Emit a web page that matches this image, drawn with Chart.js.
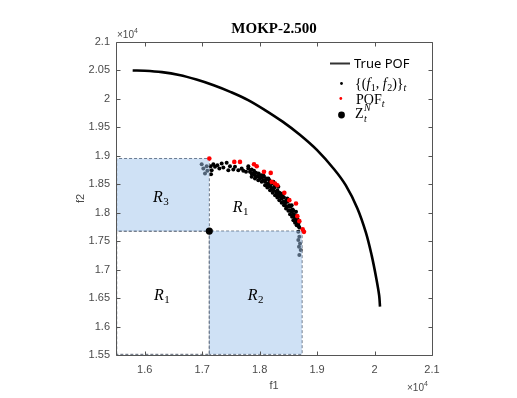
<!DOCTYPE html>
<html><head><meta charset="utf-8">
<script src="https://cdn.jsdelivr.net/npm/chart.js@4"></script>
<style>html,body{margin:0;padding:0;background:#fff;}#wrap{width:517px;height:398px;}</style>
</head><body><div id="wrap"><canvas id="c" width="517" height="398"></canvas></div>
<script>
// ---- data (units of 1e4) ----
const trueF1 = [1.579, 1.600, 1.630, 1.660, 1.690, 1.720, 1.750, 1.780, 1.810, 1.840, 1.870, 1.900, 1.930, 1.950, 1.970, 1.985, 1.995, 2.003, 2.008, 2.0095];
const trueF2 = [2.050, 2.0495, 2.047, 2.042, 2.034, 2.024, 2.012, 1.998, 1.980, 1.960, 1.937, 1.910, 1.876, 1.848, 1.808, 1.765, 1.725, 1.685, 1.655, 1.635];

const popF1 = [1.6991,1.7020,1.7049,1.7078,1.7090,
 1.7148,1.7165,1.7154,1.7194,1.7223,1.7264,1.7299,1.7339,1.7368,1.7426,1.7455,1.7484,1.7542,1.7571,1.7629,1.7687,1.7716,1.7763,1.7803,1.7832,1.7861,
 1.7890,1.7919,1.7949,1.7977,1.8007,1.8036,1.8065,1.8094,1.8111,1.8134,1.8152,1.8181,1.8192,1.8210,1.8239,1.8256,1.8285,1.8297,1.8326,1.8343,1.8355,1.8384,1.8401,1.8413,1.8442,1.8459,1.8471,1.8500,1.8517,1.8529,1.8558,1.8575,1.8587,1.8598,1.8616,1.8633,1.8645,1.8656,1.8674,1.8680,
 1.7803,1.7861,1.7902,1.7937,1.7983,1.8030,1.8076,1.8123,1.8169,1.8215,1.8262,1.8308,1.8366,1.8424,1.8482,1.8540,1.8587,1.8621,1.8656,1.8691,
 1.7861,1.7919,1.7977,1.8036,1.8094,1.8134,1.8181,1.8227,1.8268,1.8308,1.8343,1.8384,1.8424,1.8459,1.8500,1.8529,1.8564,1.8587,1.8616,1.8645,
 1.8065,1.8152,1.8239,1.8326,1.8413,1.8482,1.8558,
 1.8673,1.8691,1.8673,1.8703,1.8685,1.8715,1.8691];
const popF2 = [1.8853,1.8777,1.8689,1.8818,1.8736,
 1.8818,1.8747,1.8677,1.8853,1.8806,1.8835,1.8777,1.8864,1.8794,1.8876,1.8747,1.8818,1.8759,1.8806,1.8747,1.8777,1.8736,1.8718,1.8777,1.8718,1.8689,
 1.8689,1.8660,1.8630,1.8642,1.8601,1.8619,1.8572,1.8543,1.8583,1.8513,1.8484,1.8525,1.8455,1.8425,1.8396,1.8443,1.8367,1.8338,1.8308,1.8349,1.8279,1.8250,1.8291,1.8191,1.8162,1.8209,1.8115,1.8104,1.8133,1.8045,1.8016,1.8057,1.7975,1.7940,1.7899,1.8016,1.7870,1.7840,1.7811,1.7764,
 1.8818,1.8759,1.8736,1.8701,1.8689,1.8660,1.8630,1.8601,1.8572,1.8513,1.8466,1.8396,1.8338,1.8268,1.8191,1.8115,1.8034,1.7957,1.7899,1.7741,
 1.8630,1.8601,1.8572,1.8543,1.8484,1.8443,1.8396,1.8349,1.8308,1.8267,1.8221,1.8174,1.8133,1.8074,1.8033,1.7975,1.7928,1.7870,1.7823,1.7782,
 1.8660,1.8601,1.8543,1.8455,1.8338,1.8250,1.8133,
 1.7664,1.7577,1.7519,1.7461,1.7401,1.7343,1.7255];

const pofF1 = [1.7124,1.7559,1.7658,1.7902,1.7949,1.8076,1.8193,1.8210,1.8268,1.8308,1.8430,1.8517,1.8633,1.8656,1.8691,1.8750,1.8772];
const pofF2 = [1.8953,1.8893,1.8893,1.8853,1.8818,1.8718,1.8700,1.8542,1.8514,1.8484,1.8349,1.8221,1.8163,1.7940,1.7852,1.7707,1.7664];

const zF1 = [1.7124];
const zF2 = [1.7677];

// regions: R3 (shaded), R2 (shaded), R1 lower-left (unshaded)
const regionNames = ['R3', 'R2', 'R1'];
const regionX0 = [1.5512, 1.7124, 1.5512];
const regionX1 = [1.7124, 1.8738, 1.7124];
const regionY0 = [1.7677, 1.5512, 1.5512];
const regionY1 = [1.8953, 1.7677, 1.7677];
const regionShaded = [true, true, false];

// region labels
const labelMain = ['R', 'R', 'R', 'R'];
const labelSub = ['3', '1', '1', '2'];
const labelF1 = [1.628, 1.767, 1.630, 1.793];
const labelF2 = [1.828, 1.810, 1.655, 1.655];

const xTicks = [1.6, 1.7, 1.8, 1.9, 2.0, 2.1];
const xTickLabels = ['1.6', '1.7', '1.8', '1.9', '2', '2.1'];
const yTicks = [1.55, 1.6, 1.65, 1.7, 1.75, 1.8, 1.85, 1.9, 1.95, 2.0, 2.05, 2.1];
const yTickLabels = ['1.55', '1.6', '1.65', '1.7', '1.75', '1.8', '1.85', '1.9', '1.95', '2', '2.05', '2.1'];

// ---- build ----
const zip = (a, b) => a.map((v, i) => ({x: v, y: b[i]}));
const AXIS = '#555555';
const TXT = '#4a4a4a';
const EDGE = '#5b6575';
const FILL = 'rgba(160,195,235,0.5)';

const datasets = [];
datasets.push({label: 'Z', data: zip(zF1, zF2), pointRadius: 3.6, pointBackgroundColor: '#000', pointBorderWidth: 0, showLine: false, order: 0});
datasets.push({label: 'POF', data: zip(pofF1, pofF2), pointRadius: 2.3, pointBackgroundColor: '#ff0000', pointBorderWidth: 0, showLine: false, order: 1});
regionNames.forEach((n, i) => {
  if (regionShaded[i]) {
    datasets.push({label: n + 'fill', data: [{x: regionX0[i], y: regionY1[i]}, {x: regionX1[i], y: regionY1[i]}],
      showLine: true, borderWidth: 0, borderColor: 'rgba(0,0,0,0)', pointRadius: 0, backgroundColor: FILL,
      fill: {value: regionY0[i]}, tension: 0, order: 2});
  }
  datasets.push({label: n + 'edge', data: [
      {x: regionX0[i], y: regionY0[i]}, {x: regionX0[i], y: regionY1[i]}, {x: regionX1[i], y: regionY1[i]},
      {x: regionX1[i], y: regionY0[i]}, {x: regionX0[i], y: regionY0[i]}],
    showLine: true, borderWidth: 1, borderColor: EDGE, borderDash: [3, 2], pointRadius: 0, fill: false, tension: 0, order: 2});
});
datasets.push({label: 'pop', data: zip(popF1, popF2), pointRadius: 2, pointBackgroundColor: '#000', pointBorderWidth: 0, showLine: false, order: 3});
datasets.push({label: 'true', data: zip(trueF1, trueF2), showLine: true, borderColor: '#000', borderWidth: 2.6, pointRadius: 0, tension: 0.35, fill: false, order: 4});

function rich(ctx, x, y, segs) {
  for (const s of segs) {
    ctx.font = s.f;
    ctx.fillText(s.t, x, y + (s.dy || 0));
    x += ctx.measureText(s.t).width + (s.sp || 0);
  }
  return x;
}

const deco = {
  id: 'deco',
  afterDraw(chart) {
    const {ctx, chartArea: a, scales: {x, y}} = chart;
    ctx.save();
    const L = Math.round(a.left) + 0.5, R = Math.round(a.right) + 0.5, T = Math.round(a.top) + 0.5, B = Math.round(a.bottom) + 0.5;
    ctx.strokeStyle = AXIS; ctx.lineWidth = 1; ctx.setLineDash([]);
    ctx.beginPath(); ctx.rect(L, T, R - L, B - T); ctx.stroke();
    ctx.beginPath();
    xTicks.forEach(v => { const p = Math.round(x.getPixelForValue(v)) + 0.5; ctx.moveTo(p, B); ctx.lineTo(p, B - 4); ctx.moveTo(p, T); ctx.lineTo(p, T + 4); });
    yTicks.forEach(v => { const p = Math.round(y.getPixelForValue(v)) + 0.5; ctx.moveTo(L, p); ctx.lineTo(L + 4, p); ctx.moveTo(R, p); ctx.lineTo(R - 4, p); });
    ctx.stroke();

    // title
    ctx.fillStyle = '#000'; ctx.textAlign = 'center'; ctx.textBaseline = 'alphabetic';
    ctx.font = 'bold 15px "Liberation Serif", "Times New Roman", serif';
    ctx.fillText('MOKP-2.500', (a.left + a.right) / 2, 33);

    // axis titles
    ctx.fillStyle = TXT; ctx.font = '11px "Liberation Sans", Arial, sans-serif';
    ctx.fillText('f1', (a.left + a.right) / 2, 389);
    ctx.save(); ctx.translate(84, (a.top + a.bottom) / 2); ctx.rotate(-Math.PI / 2); ctx.fillText('f2', 0, 0); ctx.restore();

    // exponent labels
    ctx.textAlign = 'left';
    rich(ctx, a.left + 1, 38, [{t: '×10', f: '10px "Liberation Sans", Arial, sans-serif'}, {t: '4', f: '7px "Liberation Sans", Arial, sans-serif', dy: -5}]);
    rich(ctx, a.right - 25, 391, [{t: '×10', f: '10px "Liberation Sans", Arial, sans-serif'}, {t: '4', f: '7px "Liberation Sans", Arial, sans-serif', dy: -5}]);

    // region labels
    ctx.fillStyle = '#000';
    labelMain.forEach((m, i) => {
      const px = x.getPixelForValue(labelF1[i]), py = y.getPixelForValue(labelF2[i]);
      ctx.font = 'italic 16px "Liberation Serif", serif';
      const w = ctx.measureText(m).width + 6;
      rich(ctx, px - w / 2, py + 5, [{t: m, f: 'italic 16px "Liberation Serif", serif', sp: 0.5}, {t: labelSub[i], f: '11px "Liberation Serif", serif', dy: 3}]);
    });

    // legend
    const SERIF = '"Liberation Serif", "Times New Roman", serif';
    ctx.strokeStyle = '#333'; ctx.lineWidth = 2;
    ctx.beginPath(); ctx.moveTo(330, 63.5); ctx.lineTo(350, 63.5); ctx.stroke();
    ctx.fillStyle = '#000';
    rich(ctx, 354, 68, [{t: 'True POF', f: '13px "Noto Sans", "Open Sans", sans-serif'}]);
    ctx.beginPath(); ctx.arc(341.5, 83.5, 1.4, 0, Math.PI * 2); ctx.fill();
    rich(ctx, 355, 88, [
      {t: '{(', f: '14px ' + SERIF},
      {t: 'f', f: 'italic 14px ' + SERIF, sp: 0.5}, {t: '1', f: '10px ' + SERIF, dy: 3},
      {t: ', ', f: '14px ' + SERIF},
      {t: 'f', f: 'italic 14px ' + SERIF, sp: 0.5}, {t: '2', f: '10px ' + SERIF, dy: 3},
      {t: ')}', f: '14px ' + SERIF},
      {t: 't', f: 'italic 10px ' + SERIF, dy: 3}
    ]);
    ctx.fillStyle = '#ff0000';
    ctx.beginPath(); ctx.arc(340.8, 98.5, 1.4, 0, Math.PI * 2); ctx.fill();
    ctx.fillStyle = '#000';
    rich(ctx, 356, 104, [{t: 'POF', f: '14px ' + SERIF}, {t: 't', f: 'italic 10px ' + SERIF, dy: 3}]);
    ctx.beginPath(); ctx.arc(341.5, 115, 3.4, 0, Math.PI * 2); ctx.fill();
    ctx.font = '14px ' + SERIF;
    ctx.fillText('Z', 355, 118);
    const zw = ctx.measureText('Z').width;
    ctx.font = 'italic 10px ' + SERIF;
    ctx.fillText('N', 355 + zw + 0.5, 111);
    ctx.fillText('t', 355 + zw + 0.5, 122);
    ctx.restore();
  }
};

new Chart(document.getElementById('c'), {
  type: 'scatter',
  data: {datasets},
  options: {
    responsive: false, animation: false, devicePixelRatio: 1,
    layout: {padding: {left: 0, right: 85, top: 42, bottom: 0}},
    plugins: {legend: {display: false}, tooltip: {enabled: false}, title: {display: false}},
    scales: {
      x: {
        type: 'linear', min: 1.55, max: 2.1,
        grid: {display: false, drawTicks: false, tickLength: 0},
        border: {display: false},
        afterBuildTicks: s => { s.ticks = xTicks.map(v => ({value: v})); },
        afterFit: s => { s.height = 43; },
        ticks: {padding: 8, color: TXT, font: {family: '"Liberation Sans", Arial, sans-serif', size: 11},
          callback: (v) => { const i = xTicks.findIndex(t => Math.abs(t - v) < 1e-6); return i >= 0 ? xTickLabels[i] : ''; },
          maxRotation: 0, autoSkip: false}
      },
      y: {
        type: 'linear', min: 1.55, max: 2.1,
        grid: {display: false, drawTicks: false, tickLength: 0},
        border: {display: false},
        afterBuildTicks: s => { s.ticks = yTicks.map(v => ({value: v})); },
        afterFit: s => { s.width = 116; },
        ticks: {padding: 6, color: TXT, font: {family: '"Liberation Sans", Arial, sans-serif', size: 11},
          callback: (v) => { const i = yTicks.findIndex(t => Math.abs(t - v) < 1e-6); return i >= 0 ? yTickLabels[i] : ''; },
          autoSkip: false}
      }
    }
  },
  plugins: [deco]
});
</script></body></html>
